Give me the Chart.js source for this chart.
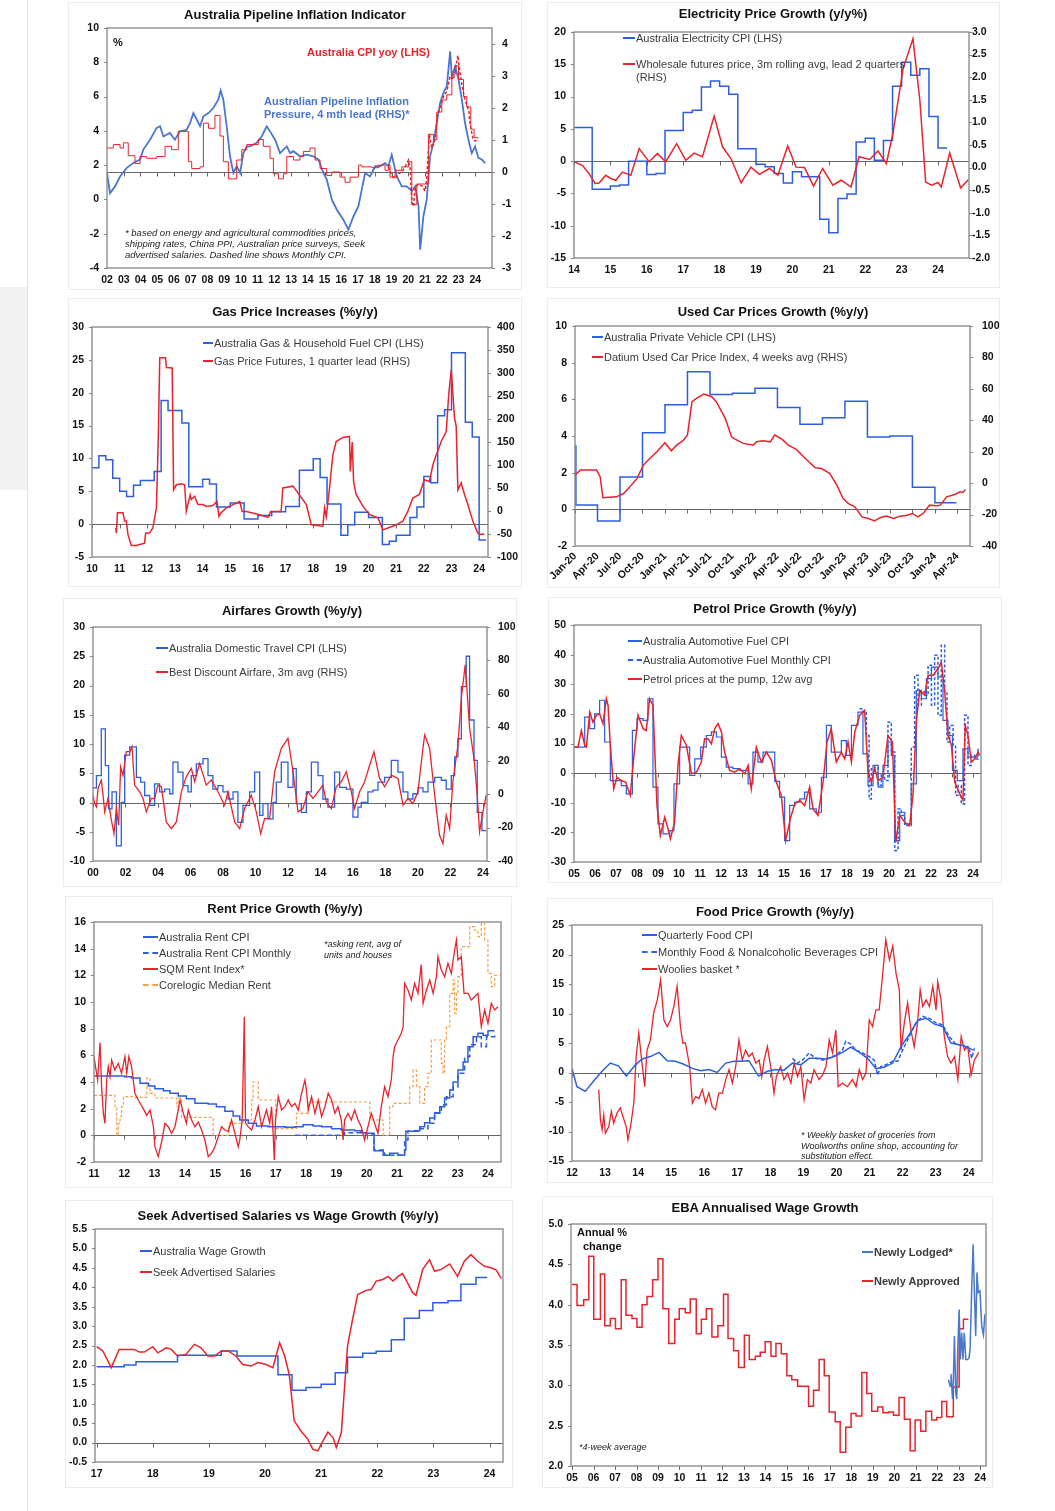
<!DOCTYPE html>
<html>
<head>
<meta charset="utf-8">
<script src="https://cdn.jsdelivr.net/npm/chart.js@4.4.1/dist/chart.umd.min.js"></script>
<style>
body{margin:0;width:1055px;height:1511px;position:relative;overflow:hidden;background:#fff;font-family:"Liberation Sans",Arial,sans-serif;}
.box{position:absolute;border:1px solid #ececec;box-sizing:border-box;}
canvas{position:absolute;}
.tx{position:absolute;white-space:nowrap;line-height:1;transform:translateY(-50%);font-size:11px;color:#3a3a3a;}
.ttl{transform:translate(-50%,-50%);font-weight:bold;font-size:13px;color:#111;}
.note{font-style:italic;font-size:9.5px;color:#222;}
.key{position:absolute;height:0;}
</style>
</head>
<body>
<div style="position:absolute;left:0;top:287px;width:27px;height:203px;background:#f1f1f1;"></div>
<div style="position:absolute;left:27px;top:0;width:1px;height:1511px;background:#e4e4e4;"></div>
<script>
// ---------- data: [year, value] ----------
const pipeYears = ['02','03','04','05','06','07','08','09','10','11','12','13','14','15','16','17','18','19','20','21','22','23','24'];
const pipeLeftTicks = [-4,-2,0,2,4,6,8,10];
const pipeRightTicks = [-3,-2,-1,0,1,2,3,4];
const pipePressure = [[2002.0,-0.03],[2002.18,-0.66],[2002.48,-0.45],[2002.78,-0.14],[2003.18,0.13],[2003.57,0.28],[2003.97,0.39],[2004.17,0.7],[2004.57,1.01],[2004.97,1.38],[2005.17,1.43],[2005.37,1.11],[2005.76,1.22],[2006.06,1.01],[2006.36,1.27],[2006.76,1.32],[2006.96,1.53],[2007.16,1.84],[2007.36,1.64],[2007.56,1.43],[2007.76,1.74],[2008.06,1.84],[2008.35,2.0],[2008.65,2.26],[2008.79,2.55],[2008.95,2.26],[2009.15,1.43],[2009.35,0.49],[2009.55,-0.03],[2009.75,0.18],[2009.95,-0.03],[2010.15,0.59],[2010.35,0.8],[2010.55,0.8],[2010.94,0.91],[2011.24,1.11],[2011.54,1.43],[2011.74,1.27],[2012.04,1.01],[2012.34,0.59],[2012.74,0.8],[2012.94,0.59],[2013.14,0.65],[2013.53,0.49],[2013.93,0.54],[2014.33,0.49],[2014.63,0.39],[2014.93,-0.03],[2015.13,-0.24],[2015.43,-0.86],[2015.73,-1.18],[2016.12,-1.49],[2016.42,-1.8],[2016.72,-1.39],[2017.02,-1.07],[2017.22,-0.55],[2017.42,-0.03],[2017.72,-0.14],[2018.02,0.18],[2018.31,0.18],[2018.61,0.28],[2018.81,0.18],[2019.01,0.54],[2019.31,-0.14],[2019.61,-0.45],[2019.91,-0.45],[2020.21,-0.6],[2020.41,-0.45],[2020.61,-1.07],[2020.71,-2.43],[2020.9,-1.39],[2021.1,-0.86],[2021.3,0.49],[2021.5,0.91],[2021.7,1.53],[2021.9,2.16],[2022.1,2.47],[2022.3,2.68],[2022.5,3.77],[2022.6,2.99],[2022.8,3.3],[2023.0,2.89],[2023.2,2.26],[2023.39,1.53],[2023.59,1.01],[2023.79,0.59],[2023.99,0.8],[2024.19,0.44],[2024.39,0.39],[2024.59,0.28]];
const pipeCpiQ = [[2002.0,3.0],[2002.38,3.2],[2002.78,3.0],[2002.98,3.3],[2003.27,2.55],[2003.67,2.1],[2003.97,2.5],[2004.37,2.4],[2004.97,2.5],[2005.47,3.1],[2005.86,2.9],[2006.26,3.97],[2006.86,2.2],[2007.06,1.8],[2007.56,1.9],[2007.76,4.45],[2008.06,4.15],[2008.45,4.9],[2008.75,3.7],[2008.95,2.2],[2009.25,1.2],[2009.75,2.3],[2010.05,2.9],[2010.35,3.2],[2011.04,3.5],[2011.34,3.1],[2011.74,2.4],[2011.94,1.5],[2012.24,1.2],[2012.54,1.5],[2012.74,2.5],[2013.14,2.3],[2013.53,2.5],[2013.73,2.8],[2014.13,3.0],[2014.43,2.3],[2014.73,1.8],[2015.13,1.4],[2015.43,1.6],[2015.92,1.3],[2016.22,1.0],[2016.52,1.3],[2017.02,2.0],[2017.22,1.9],[2017.82,1.85],[2018.22,2.0],[2018.61,1.7],[2018.81,2.0],[2018.91,1.3],[2019.21,1.7],[2019.61,1.9],[2020.01,2.2],[2020.21,-0.3],[2020.51,0.9],[2021.2,3.8],[2021.5,3.5],[2021.7,5.1],[2022.0,5.8],[2022.3,6.1],[2022.6,7.3],[2022.8,7.8],[2023.0,7.0],[2023.3,6.0],[2023.49,5.4],[2023.73,4.1],[2023.93,3.6],[2024.19,3.6]];
const pipeCpiM = [[2018.81,1.9],[2019.01,1.4],[2019.21,1.2],[2019.41,1.5],[2019.61,1.6],[2019.81,1.9],[2020.01,2.3],[2020.11,1.8],[2020.21,-0.2],[2020.31,-0.4],[2020.41,0.7],[2020.61,0.9],[2020.81,0.8],[2021.0,0.5],[2021.1,1.2],[2021.26,3.8],[2021.4,3.0],[2021.6,3.5],[2021.74,5.0],[2021.9,5.3],[2022.1,6.0],[2022.3,6.3],[2022.5,7.2],[2022.7,7.0],[2022.86,7.8],[2022.96,8.4],[2023.1,7.3],[2023.2,6.7],[2023.34,6.0],[2023.49,5.5],[2023.61,5.2],[2023.69,4.4],[2023.85,3.6],[2023.99,3.4],[2024.19,3.5]];

const elecYears = ['14','15','16','17','18','19','20','21','22','23','24'];
const elecLeftTicks = [-15,-10,-5,0,5,10,15,20];
const elecRightTicks = [-2,-1.5,-1,-0.5,0,0.5,1,1.5,2,2.5,3];
const elecCpi = [[2014.0,5.2],[2014.5,-4.35],[2015.0,-3.85],[2015.25,-3.7],[2015.5,0.0],[2016.0,-2.05],[2016.25,-1.9],[2016.5,4.75],[2017.0,7.55],[2017.25,7.9],[2017.5,11.5],[2017.75,12.4],[2018.0,11.6],[2018.25,10.35],[2018.5,1.9],[2019.0,-0.5],[2019.25,-0.85],[2019.5,-1.9],[2019.75,-3.4],[2020.0,-1.65],[2020.25,-2.4],[2020.75,-9.0],[2021.0,-11.1],[2021.25,-5.8],[2021.5,-5.1],[2021.75,2.95],[2022.0,3.55],[2022.25,0.15],[2022.5,3.2],[2022.75,11.6],[2023.0,15.3],[2023.25,13.3],[2023.5,14.3],[2023.75,6.9],[2024.0,2.05],[2024.25,2.05]];
const elecWholesale = [[2014.0,0.13],[2014.23,0.05],[2014.41,-0.13],[2014.58,-0.35],[2014.69,-0.34],[2014.87,-0.17],[2015.01,-0.24],[2015.15,-0.28],[2015.33,-0.1],[2015.56,-0.17],[2015.79,0.42],[2016.06,0.13],[2016.29,0.31],[2016.52,0.13],[2016.82,0.53],[2017.07,0.16],[2017.3,0.32],[2017.53,0.24],[2017.85,1.14],[2018.08,0.46],[2018.31,0.2],[2018.59,-0.34],[2018.86,0.01],[2019.09,-0.15],[2019.37,-0.02],[2019.6,-0.17],[2019.87,0.48],[2020.1,0.01],[2020.33,0.0],[2020.58,-0.41],[2020.83,-0.02],[2021.11,-0.39],[2021.34,-0.28],[2021.61,-0.43],[2021.83,0.24],[2022.12,0.18],[2022.35,0.37],[2022.58,0.09],[2022.76,0.75],[2023.04,2.19],[2023.31,2.85],[2023.5,1.49],[2023.66,-0.32],[2023.82,-0.39],[2024.0,-0.33],[2024.09,-0.43],[2024.32,0.32],[2024.62,-0.45],[2024.83,-0.27]];

const gasYears = ['10','11','12','13','14','15','16','17','18','19','20','21','22','23','24'];
const gasLeftTicks = [-5,0,5,10,15,20,25,30];
const gasRightTicks = [-100,-50,0,50,100,150,200,250,300,350,400];
const gasCpi = [[2010.0,8.6],[2010.25,10.4],[2010.5,9.8],[2010.75,7.0],[2011.0,5.0],[2011.25,4.2],[2011.5,5.9],[2011.75,6.65],[2012.25,8.0],[2012.5,18.8],[2012.75,17.3],[2013.25,15.4],[2013.5,5.7],[2014.0,6.85],[2014.25,6.1],[2014.5,2.6],[2015.0,3.2],[2015.5,0.8],[2016.0,1.3],[2016.5,1.9],[2017.0,2.7],[2017.5,8.2],[2018.0,9.95],[2018.25,7.1],[2018.5,3.05],[2019.0,-1.7],[2019.25,-0.1],[2019.5,1.8],[2020.0,1.0],[2020.5,-3.1],[2020.75,-2.6],[2021.0,-1.7],[2021.5,1.0],[2021.75,2.6],[2022.0,7.25],[2022.25,6.3],[2022.5,16.5],[2022.75,17.4],[2023.0,26.1],[2023.5,15.5],[2023.75,13.25],[2024.0,-2.4],[2024.25,-2.4]];
const gasFutures = [[2010.86,-37],[2010.88,-48],[2010.92,-4],[2011.12,-4],[2011.18,-22],[2011.24,-22],[2011.3,-51],[2011.42,-75],[2011.6,-75],[2011.9,-70],[2011.94,-48],[2012.08,-48],[2012.2,-37],[2012.33,7],[2012.4,166],[2012.45,333],[2012.66,333],[2012.69,312],[2012.9,311],[2012.95,46],[2013.05,57],[2013.23,59],[2013.35,57],[2013.41,-1],[2013.55,35],[2013.59,25],[2013.71,32],[2013.83,14],[2014.01,14],[2014.13,10],[2014.37,12],[2014.52,21],[2014.59,-12],[2014.67,-4],[2014.86,7],[2015.1,14],[2015.34,21],[2015.43,-1],[2015.58,-1],[2016.06,-8],[2016.36,-14],[2016.46,-1],[2016.84,-1],[2016.9,50],[2017.27,54],[2017.75,14],[2017.93,-30],[2018.35,-33],[2018.41,7],[2018.47,-12],[2018.59,50],[2018.71,122],[2018.83,151],[2019.07,160],[2019.31,162],[2019.34,86],[2019.41,150],[2019.46,64],[2019.55,36],[2019.8,10],[2020.04,-8],[2020.34,-15],[2020.52,-41],[2020.7,-37],[2021.0,-30],[2021.24,-22],[2021.42,-1],[2021.6,28],[2021.84,36],[2022.02,68],[2022.2,64],[2022.33,101],[2022.45,122],[2022.63,151],[2022.81,173],[2022.9,253],[2022.99,307],[2023.11,202],[2023.17,184],[2023.23,46],[2023.35,61],[2023.47,36],[2023.59,14],[2023.77,-22],[2023.95,-48],[2024.07,-51],[2024.19,-50]];

const carQuarters = ['Jan-20','Apr-20','Jul-20','Oct-20','Jan-21','Apr-21','Jul-21','Oct-21','Jan-22','Apr-22','Jul-22','Oct-22','Jan-23','Apr-23','Jul-23','Oct-23','Jan-24','Apr-24'];
const carLeftTicks = [-2,0,2,4,6,8,10];
const carRightTicks = [-40,-20,0,20,40,60,80,100];
const carCpi = [[2020.0,3.45],[2020.01,0.24],[2020.25,-0.64],[2020.5,1.76],[2020.75,4.18],[2021.0,5.7],[2021.25,7.5],[2021.5,6.27],[2021.75,6.33],[2022.0,6.6],[2022.25,5.55],[2022.5,4.64],[2022.75,5.0],[2023.0,5.9],[2023.25,3.95],[2023.5,4.0],[2023.75,1.2],[2024.0,0.36],[2024.24,0.36]];
const carDatium = [[2020.0,5.1],[2020.06,8.3],[2020.24,8.3],[2020.28,4],[2020.31,-9.3],[2020.46,-8.7],[2020.54,-6.6],[2020.61,-2.3],[2020.69,3],[2020.76,11.5],[2020.83,15.7],[2020.91,20],[2021.0,25.7],[2021.07,20.6],[2021.13,24.2],[2021.2,27],[2021.25,30.6],[2021.3,51.8],[2021.35,54],[2021.43,56.7],[2021.52,55],[2021.57,51.8],[2021.67,41.2],[2021.74,29.5],[2021.78,28],[2021.87,25.3],[2021.98,24.2],[2022.02,26.3],[2022.09,27],[2022.17,26.3],[2022.22,30.6],[2022.3,28],[2022.37,24.2],[2022.46,21.5],[2022.56,15.7],[2022.67,9.8],[2022.74,9.3],[2022.83,6.2],[2022.91,-1.3],[2022.98,-9.8],[2023.04,-13],[2023.11,-15],[2023.19,-21.5],[2023.26,-22.5],[2023.33,-24],[2023.39,-22],[2023.46,-21],[2023.54,-22.5],[2023.61,-21],[2023.69,-20.4],[2023.75,-19.3],[2023.81,-21.5],[2023.87,-19.3],[2023.94,-14],[2024.02,-14.4],[2024.06,-14],[2024.13,-8.7],[2024.22,-7.2],[2024.28,-5.5],[2024.31,-5.9],[2024.34,-4]];

const airYears = ['00','02','04','06','08','10','12','14','16','18','20','22','24'];
const airLeftTicks = [-10,-5,0,5,10,15,20,25,30];
const airRightTicks = [-40,-20,0,20,40,60,80,100];
const airCpi = [[2000.0,2.5],[2000.21,4.6],[2000.51,12.6],[2000.76,6.3],[2000.96,-1.1],[2001.17,1.8],[2001.44,-7.4],[2001.74,0],[2001.95,8.1],[2002.26,9.5],[2002.67,4.3],[2002.93,3.5],[2003.18,1.2],[2003.49,-0.5],[2003.79,3.2],[2004.1,1.8],[2004.41,2.3],[2004.72,1.5],[2004.92,6.9],[2005.23,5.2],[2005.54,2.9],[2005.85,1.8],[2006.05,4.6],[2006.36,6.6],[2006.77,7.5],[2007.08,4.6],[2007.38,2.3],[2007.69,2.9],[2008.0,1.8],[2008.31,0.6],[2008.62,1.8],[2008.92,-3.4],[2009.23,-0.5],[2009.64,1.8],[2009.95,5.2],[2010.26,-2.2],[2010.46,-0.2],[2010.77,-2.8],[2011.08,0],[2011.28,3.5],[2011.59,6.9],[2012.0,2.6],[2012.31,5.8],[2012.51,-0.2],[2012.82,-1.7],[2013.13,1.8],[2013.44,6.9],[2013.85,4.6],[2014.15,0.6],[2014.46,-0.8],[2014.87,5.2],[2015.18,2.6],[2015.59,2.3],[2016.0,-2.5],[2016.31,-0.8],[2016.51,0],[2016.92,1.8],[2017.23,2.1],[2017.54,3.5],[2017.95,4.3],[2018.36,7.2],[2018.77,5.2],[2019.08,1.8],[2019.38,0.6],[2019.69,1.5],[2020.0,2.5],[2020.31,1.8],[2020.62,3.5],[2021.03,4.3],[2021.44,3.8],[2021.74,2.3],[2022.05,4.6],[2022.26,7.8],[2022.46,10.9],[2022.67,19.8],[2022.97,25],[2023.18,14.1],[2023.45,7.2],[2023.65,-1.7],[2023.94,-4.8],[2024.2,-4.8]];
const airFare = [[2000.0,-0.6],[2000.1,-5.6],[2000.21,-7.6],[2000.31,3.4],[2000.51,8.4],[2000.62,-0.6],[2000.72,-10.6],[2000.92,-2.6],[2001.13,-15.6],[2001.29,-23.6],[2001.44,-8.6],[2001.58,-18.6],[2001.7,16.4],[2001.85,11.4],[2002.05,25.4],[2002.26,25.4],[2002.4,28.4],[2002.56,5.4],[2002.87,1.4],[2003.08,-2.6],[2003.28,-10.6],[2003.59,-2.6],[2003.79,-2.6],[2004.0,5.4],[2004.21,4.4],[2004.51,-16.6],[2004.82,-20.6],[2005.13,-16.6],[2005.44,1.4],[2005.74,10.4],[2006.05,15.4],[2006.26,7.4],[2006.56,18.4],[2006.97,5.4],[2007.28,8.4],[2007.69,1.4],[2008.1,-6.6],[2008.31,1.4],[2008.72,-16.6],[2009.03,-20.6],[2009.33,-8.6],[2009.74,-0.6],[2010.05,-10.6],[2010.32,-23.6],[2010.56,-14.6],[2010.87,-14.6],[2011.18,13.4],[2011.59,27.4],[2012.0,33.4],[2012.31,13.4],[2012.62,-10.6],[2012.92,-8.6],[2013.23,1.4],[2013.54,-2.6],[2013.85,1.4],[2014.15,5.4],[2014.36,-4.6],[2014.67,-8.6],[2014.97,4.4],[2015.28,7.4],[2015.59,13.4],[2015.9,1.4],[2016.1,-8.6],[2016.41,1.4],[2016.72,7.4],[2017.03,17.4],[2017.29,25.4],[2017.64,9.4],[2017.95,4.4],[2018.36,11.4],[2018.77,9.4],[2019.08,-6.6],[2019.38,-2.6],[2019.69,-5.6],[2020.0,1.4],[2020.21,19.4],[2020.41,35.4],[2020.72,27.4],[2021.03,-0.6],[2021.33,-24.6],[2021.54,-29.6],[2021.74,-12.6],[2021.95,-20.6],[2022.15,7.4],[2022.46,29.4],[2022.67,57.4],[2022.91,77.4],[2023.18,39.4],[2023.45,21.4],[2023.65,-0.6],[2023.79,-22.6],[2024.0,-10.6],[2024.2,-0.6]];

const petrolYears = ['05','06','07','08','09','10','11','12','13','14','15','16','17','18','19','20','21','22','23','24'];
const petrolTicks = [-30,-20,-10,0,10,20,30,40,50];
const petrolCpiQ = [[2005.0,8.8],[2005.27,8.8],[2005.51,18.9],[2005.75,15],[2005.98,20],[2006.22,24.6],[2006.46,10.5],[2006.73,-2.5],[2006.98,-2.5],[2007.25,-4.2],[2007.49,-7],[2007.78,14.4],[2008.0,18.4],[2008.29,17.8],[2008.52,25.1],[2008.76,-4.7],[2009.0,-17.1],[2009.24,-20.5],[2009.56,-19.4],[2009.76,-3.6],[2010.03,8.8],[2010.27,8.8],[2010.51,-0.8],[2010.75,4.8],[2011.03,8.8],[2011.3,12.7],[2011.54,13.9],[2011.78,12.2],[2012.02,5.4],[2012.25,2],[2012.57,1.5],[2012.89,0.9],[2013.29,-3.6],[2013.52,7.1],[2013.76,3.7],[2014.0,7.1],[2014.32,7.1],[2014.56,-2.8],[2014.79,-8.1],[2015.03,-22.8],[2015.27,-10.9],[2015.51,-9.8],[2015.75,-8.7],[2015.98,-6.4],[2016.22,-12.1],[2016.54,-13.2],[2016.78,-1.4],[2017.02,16.1],[2017.25,7.1],[2017.49,7.1],[2017.73,11],[2017.97,6],[2018.21,16.1],[2018.52,20.6],[2018.76,6.5],[2019.0,-4.2],[2019.24,2.6],[2019.48,-4.7],[2019.71,2.6],[2019.95,10.5],[2020.11,6],[2020.27,-22.8],[2020.51,-13.2],[2020.75,-17.1],[2021.06,-3.6],[2021.3,27.9],[2021.54,25.1],[2021.78,31.9],[2022.02,35.8],[2022.33,32.5],[2022.57,17.8],[2022.81,12.7],[2023.02,0.9],[2023.25,-2.5],[2023.52,8.2],[2023.76,5.4],[2024.0,5.4],[2024.24,5.4]];
const petrolCpiM = [[2018.6,21.7],[2018.76,20.6],[2018.92,12.7],[2019.05,-8.7],[2019.16,1.5],[2019.32,2],[2019.48,-4.2],[2019.63,-0.2],[2019.79,-2.5],[2019.95,17.2],[2020.11,7.1],[2020.27,-26.1],[2020.43,-12.1],[2020.59,-14.3],[2020.75,-17.7],[2020.9,-17.7],[2021.06,8.8],[2021.22,33],[2021.38,22.9],[2021.54,27.4],[2021.7,26.3],[2021.86,36.4],[2022.02,22.9],[2022.17,39.8],[2022.33,19.5],[2022.49,43.2],[2022.65,27.4],[2022.76,10.5],[2022.89,16.1],[2023.05,9.4],[2023.17,-7.5],[2023.29,-4.2],[2023.44,-10.4],[2023.6,19.5],[2023.76,2.6],[2023.92,6],[2024.08,4.8],[2024.24,8.2]];
const petrolPump = [[2005.0,8.8],[2005.19,8.8],[2005.35,14.4],[2005.51,9.4],[2005.59,8.8],[2005.75,20.6],[2005.9,17.2],[2006.06,19.5],[2006.22,20],[2006.38,16.7],[2006.54,25.1],[2006.62,22.9],[2006.73,9.4],[2006.89,-5.3],[2007.05,-1.4],[2007.25,-2.5],[2007.46,-3],[2007.68,-7.5],[2007.84,4.8],[2008.05,19.5],[2008.29,15],[2008.44,14.4],[2008.6,25.1],[2008.76,22.9],[2008.95,-10.9],[2009.11,-21.1],[2009.32,-14.9],[2009.48,-18.8],[2009.59,-22.2],[2009.79,-16.6],[2009.95,2.6],[2010.11,12.7],[2010.35,9.4],[2010.59,-0.2],[2010.83,0.3],[2011.06,3.7],[2011.22,11.6],[2011.38,11.6],[2011.54,9.9],[2011.7,15],[2011.86,16.7],[2012.02,13.9],[2012.17,7.1],[2012.41,0.9],[2012.65,0.3],[2012.89,1.5],[2013.13,-0.2],[2013.29,2.6],[2013.44,-5.3],[2013.68,8.8],[2013.92,3.7],[2014.16,7.1],[2014.4,4.3],[2014.63,-3],[2014.87,-7.5],[2015.08,-22.8],[2015.3,-15.4],[2015.51,-10.4],[2015.75,-9.2],[2015.98,-10.9],[2016.22,-4.7],[2016.38,-12.1],[2016.62,-14.3],[2016.86,-3],[2017.05,10.5],[2017.25,15],[2017.49,3.7],[2017.73,7.1],[2017.89,4.8],[2018.05,10.5],[2018.21,3.7],[2018.37,13.9],[2018.6,19.5],[2018.84,21.2],[2019.0,0.3],[2019.16,-3],[2019.32,1.5],[2019.48,-2.5],[2019.71,-1.4],[2019.95,12.7],[2020.16,10.5],[2020.32,-23.3],[2020.51,-14.3],[2020.75,-16.6],[2020.98,-17.7],[2021.14,-7.5],[2021.3,17.2],[2021.46,27.9],[2021.7,26.3],[2021.86,33],[2022.1,33],[2022.33,35.3],[2022.49,37.5],[2022.65,27.4],[2022.81,12.7],[2022.97,9.4],[2023.13,-3],[2023.4,-7.5],[2023.52,-9.2],[2023.63,16.1],[2023.76,12.7],[2023.92,3.7],[2024.08,4.8],[2024.24,7.1],[2024.32,6]];

const rentYears = ['11','12','13','14','15','16','17','18','19','20','21','22','23','24'];
const rentTicks = [-2,0,2,4,6,8,10,12,14,16];
const rentCpi = [[2011.0,4.45],[2011.86,4.45],[2012.02,4.4],[2012.24,4.3],[2012.52,3.9],[2012.79,3.7],[2013.01,3.5],[2013.29,3.35],[2013.51,3.15],[2013.78,2.95],[2014.05,2.75],[2014.33,2.4],[2014.77,2.35],[2015.04,2.15],[2015.32,1.8],[2015.59,1.45],[2015.81,1.15],[2016.09,0.9],[2016.36,0.7],[2016.75,0.65],[2017.3,0.6],[2017.63,0.65],[2017.9,0.8],[2018.23,0.7],[2018.51,0.65],[2018.84,0.5],[2019.16,0.4],[2019.44,0.4],[2019.6,0.35],[2019.82,0.2],[2019.99,0.15],[2020.24,-1.15],[2020.54,-1.5],[2020.76,-1.35],[2021.03,-1.5],[2021.25,-1.1],[2021.29,0.3],[2021.58,0.35],[2021.75,0.65],[2021.91,0.95],[2022.08,1.3],[2022.24,1.7],[2022.41,2.15],[2022.57,2.8],[2022.74,3.4],[2022.85,4.0],[2023.01,4.9],[2023.18,5.5],[2023.34,6.65],[2023.51,7.4],[2023.67,7.65],[2023.84,7.5],[2024.0,7.85],[2024.22,7.85]];
const rentCpiM = [[2017.63,0.0],[2018.51,0.0],[2019.27,0.2],[2019.99,0.1],[2020.24,-1.1],[2020.59,-1.5],[2021.14,-1.5],[2021.25,-0.35],[2021.36,0.3],[2021.69,0.5],[2022.02,0.9],[2022.24,1.65],[2022.46,2.3],[2022.63,2.9],[2022.85,3.65],[2023.01,4.65],[2023.23,5.9],[2023.4,6.8],[2023.62,7.4],[2023.78,6.65],[2023.95,7.4],[2024.22,7.65]];
const rentSqm = [[2011.0,5.9],[2011.05,5.15],[2011.12,4.15],[2011.2,6.95],[2011.25,3.65],[2011.31,1.65],[2011.36,0.9],[2011.42,4.15],[2011.47,5.15],[2011.53,4.4],[2011.58,5.65],[2011.69,4.9],[2011.8,5.4],[2011.91,4.65],[2012.02,5.9],[2012.08,4.65],[2012.15,5.9],[2012.24,5.15],[2012.35,3.15],[2012.46,2.65],[2012.59,2.15],[2012.74,1.5],[2012.85,1.9],[2012.96,0.65],[2013.01,-0.85],[2013.12,-1.6],[2013.23,-0.5],[2013.34,0.9],[2013.45,0.65],[2013.56,0.15],[2013.67,0.65],[2013.78,1.9],[2013.84,2.65],[2013.95,1.65],[2014.05,0.9],[2014.11,1.9],[2014.22,1.15],[2014.33,0.65],[2014.44,1.0],[2014.55,0.4],[2014.66,-0.35],[2014.77,-1.6],[2014.88,-1.35],[2014.99,-0.85],[2015.1,-0.1],[2015.21,0.65],[2015.32,0.4],[2015.43,0.3],[2015.54,1.15],[2015.65,0.15],[2015.76,-0.85],[2015.81,-0.35],[2015.89,1.15],[2015.96,8.9],[2016.0,0.9],[2016.09,0.65],[2016.2,0.4],[2016.31,1.15],[2016.42,2.15],[2016.53,0.65],[2016.69,1.9],[2016.8,0.9],[2016.86,2.15],[2016.91,0.15],[2016.95,-1.85],[2016.99,1.15],[2017.08,2.9],[2017.19,1.9],[2017.3,2.15],[2017.41,2.65],[2017.52,2.15],[2017.63,2.4],[2017.74,1.9],[2017.85,3.15],[2017.96,4.15],[2018.01,3.4],[2018.07,1.9],[2018.18,2.9],[2018.29,1.65],[2018.4,2.65],[2018.51,1.4],[2018.62,2.15],[2018.73,3.15],[2018.84,2.65],[2018.95,1.65],[2019.05,2.15],[2019.16,1.15],[2019.22,-0.35],[2019.27,1.15],[2019.38,1.65],[2019.49,1.15],[2019.6,1.9],[2019.71,1.15],[2019.82,0.65],[2019.93,-0.35],[2020.04,0.65],[2020.15,1.65],[2020.26,0.9],[2020.37,0.15],[2020.48,2.15],[2020.59,3.65],[2020.7,2.9],[2020.81,4.15],[2020.87,5.9],[2020.92,6.65],[2021.03,7.15],[2021.14,7.65],[2021.2,8.15],[2021.25,11.4],[2021.36,10.9],[2021.47,10.15],[2021.58,11.4],[2021.69,10.65],[2021.8,12.8],[2021.86,9.9],[2021.97,10.9],[2022.08,11.65],[2022.19,10.65],[2022.3,11.9],[2022.35,13.4],[2022.46,12.4],[2022.57,11.9],[2022.68,12.9],[2022.79,12.15],[2022.9,13.9],[2022.96,14.65],[2023.01,13.15],[2023.12,13.4],[2023.21,10.65],[2023.34,10.65],[2023.45,10.15],[2023.56,10.4],[2023.67,10.65],[2023.78,8.15],[2023.89,9.4],[2024.0,8.4],[2024.11,9.9],[2024.22,9.4],[2024.33,9.65]];
const rentCorelogic = [[2011.0,3.0],[2011.69,2.15],[2011.75,0],[2011.8,0.9],[2011.86,1.4],[2011.91,2.15],[2011.97,2.9],[2012.35,2.85],[2012.74,4.3],[2012.85,3.15],[2013.01,2.8],[2013.73,2.15],[2013.78,2.8],[2013.89,1.35],[2014.93,0],[2015.45,0.9],[2015.92,1.15],[2016.2,2.65],[2016.25,4.0],[2016.42,2.65],[2016.99,0.5],[2017.68,1.65],[2018.07,2.5],[2020.1,1.15],[2020.54,0],[2020.76,2.15],[2020.87,2.4],[2021.42,3.65],[2021.53,4.9],[2021.64,3.65],[2021.75,2.4],[2021.91,3.65],[2022.02,4.65],[2022.13,7.15],[2022.46,5.4],[2022.52,4.65],[2022.57,7.15],[2022.63,8.15],[2022.74,10.65],[2022.85,11.65],[2022.9,9.15],[2022.96,10.65],[2023.01,11.9],[2023.12,14.15],[2023.4,15.65],[2023.56,15.4],[2023.67,14.9],[2023.78,15.9],[2023.89,14.65],[2024.0,12.15],[2024.11,11.15],[2024.22,12.0],[2024.38,12.0]];

const foodYears = ['12','13','14','15','16','17','18','19','20','21','22','23','24'];
const foodTicks = [-15,-10,-5,0,5,10,15,20,25];
const foodCpiQ = [[2012.0,0.7],[2012.15,-2.4],[2012.4,-3.2],[2012.66,-1.4],[2012.91,0.2],[2013.16,1.6],[2013.41,1.1],[2013.64,-0.6],[2013.92,1.3],[2014.12,2.3],[2014.37,2.7],[2014.63,3.4],[2014.88,2.0],[2015.13,1.9],[2015.38,1.4],[2015.64,0.7],[2015.89,0.3],[2016.14,0.5],[2016.39,0.0],[2016.65,1.6],[2016.9,1.9],[2017.1,1.9],[2017.35,2.0],[2017.64,-0.6],[2017.91,0.2],[2018.16,0.5],[2018.41,0.4],[2018.67,1.6],[2018.92,1.3],[2019.17,2.4],[2019.42,2.4],[2019.68,2.3],[2019.93,2.7],[2020.18,3.4],[2020.43,4.3],[2020.69,3.4],[2020.94,2.4],[2021.19,0.7],[2021.44,0.9],[2021.7,1.6],[2021.95,4.4],[2022.2,6.4],[2022.45,8.8],[2022.71,9.2],[2022.96,8.2],[2023.21,7.8],[2023.46,5.0],[2023.72,4.7],[2023.97,4.3],[2024.12,3.8]];
const foodCpiM = [[2018.67,2.4],[2018.82,1.6],[2018.97,2.1],[2019.17,3.3],[2019.37,2.4],[2019.58,2.1],[2019.78,2.4],[2019.98,3.0],[2020.18,3.8],[2020.28,5.3],[2020.43,4.8],[2020.59,3.8],[2020.79,3.3],[2020.99,2.7],[2021.14,2.1],[2021.24,-0.4],[2021.34,1.0],[2021.49,1.3],[2021.7,1.9],[2021.85,1.9],[2022.0,3.8],[2022.2,6.1],[2022.4,8.4],[2022.61,9.5],[2022.81,9.2],[2023.01,8.4],[2023.21,8.1],[2023.41,6.1],[2023.62,4.7],[2023.82,4.7],[2024.02,3.8],[2024.09,2.4],[2024.17,4.1]];
const foodWoolies = [[2012.81,-2.9],[2012.86,-8.0],[2012.91,-9.7],[2012.96,-7.2],[2013.01,-10.3],[2013.11,-9.2],[2013.19,-6.6],[2013.26,-8.6],[2013.36,-6.9],[2013.46,-6.0],[2013.52,-7.1],[2013.64,-9.2],[2013.69,-11.4],[2013.77,-9.2],[2013.87,-5.2],[2013.94,2.7],[2014.02,6.7],[2014.1,2.4],[2014.2,-2.4],[2014.27,3.8],[2014.37,5.5],[2014.47,10.1],[2014.58,12.3],[2014.68,15.7],[2014.78,8.9],[2014.88,7.8],[2014.98,8.9],[2015.08,11.2],[2015.18,14.6],[2015.28,7.8],[2015.35,5.0],[2015.43,5.0],[2015.56,1.0],[2015.64,-5.2],[2015.74,-4.1],[2015.84,-4.4],[2015.94,-2.9],[2016.04,-5.2],[2016.14,-3.5],[2016.24,-5.8],[2016.34,-6.3],[2016.44,-3.5],[2016.55,-3.5],[2016.65,-1.2],[2016.75,0.5],[2016.85,-1.8],[2016.95,1.0],[2017.05,5.5],[2017.15,2.1],[2017.25,3.8],[2017.35,2.7],[2017.45,3.3],[2017.56,1.6],[2017.66,2.1],[2017.74,-0.7],[2017.81,2.1],[2017.91,4.4],[2018.01,1.0],[2018.11,-3.5],[2018.18,-0.7],[2018.31,1.0],[2018.41,-1.2],[2018.52,-0.1],[2018.62,-1.8],[2018.72,1.6],[2018.82,-0.7],[2018.92,1.0],[2019.02,-4.6],[2019.12,-1.2],[2019.22,-1.8],[2019.32,0.5],[2019.47,-1.2],[2019.58,-0.4],[2019.68,1.0],[2019.78,5.5],[2019.88,3.3],[2019.98,7.2],[2020.05,-2.4],[2020.18,-1.8],[2020.33,-2.4],[2020.48,-1.2],[2020.59,-2.4],[2020.69,0.5],[2020.79,-1.2],[2020.89,-0.1],[2020.99,8.9],[2021.09,7.8],[2021.19,10.6],[2021.29,10.6],[2021.39,16.3],[2021.49,22.5],[2021.6,19.1],[2021.7,21.4],[2021.8,16.8],[2021.9,14.0],[2021.95,3.8],[2022.05,8.4],[2022.15,11.8],[2022.25,7.2],[2022.35,4.4],[2022.45,8.4],[2022.53,14.0],[2022.61,11.2],[2022.71,12.3],[2022.81,11.2],[2022.91,14.6],[2023.01,10.6],[2023.06,15.4],[2023.16,12.3],[2023.26,6.1],[2023.36,2.7],[2023.46,1.6],[2023.57,2.7],[2023.67,-1.2],[2023.77,6.1],[2023.87,3.8],[2023.97,4.4],[2024.07,-0.4],[2024.17,2.1],[2024.3,3.4]];

const seekYears = ['17','18','19','20','21','22','23','24'];
const seekTicks = [-0.5,0,0.5,1,1.5,2,2.5,3,3.5,4,4.5,5,5.5];
const seekWage = [[2017.0,1.95],[2017.49,2.0],[2017.7,2.08],[2018.44,2.25],[2019.22,2.36],[2019.5,2.23],[2020.23,1.75],[2020.48,1.35],[2020.73,1.42],[2021.0,1.5],[2021.25,1.8],[2021.47,2.2],[2021.74,2.3],[2021.98,2.35],[2022.25,2.65],[2022.48,3.2],[2022.75,3.4],[2022.99,3.6],[2023.26,3.65],[2023.49,4.08],[2023.76,4.25],[2023.96,4.25]];
const seekSalaries = [[2017.0,2.47],[2017.11,2.36],[2017.26,1.93],[2017.4,2.4],[2017.49,2.4],[2017.67,2.4],[2017.76,2.33],[2017.85,2.33],[2018.0,2.47],[2018.09,2.31],[2018.24,2.44],[2018.33,2.4],[2018.44,2.23],[2018.59,2.27],[2018.74,2.53],[2018.86,2.44],[2018.98,2.23],[2019.1,2.23],[2019.22,2.36],[2019.34,2.36],[2019.48,2.23],[2019.6,2.01],[2019.75,1.97],[2019.87,2.06],[2020.02,2.01],[2020.14,1.93],[2020.26,2.57],[2020.35,2.23],[2020.43,1.76],[2020.52,0.56],[2020.64,0.3],[2020.76,0.09],[2020.85,-0.17],[2020.94,-0.21],[2021.03,0.04],[2021.12,0.27],[2021.21,0.13],[2021.27,-0.13],[2021.36,0.26],[2021.41,1.29],[2021.47,2.49],[2021.56,3.17],[2021.65,3.81],[2021.8,3.92],[2021.89,3.94],[2021.98,4.16],[2022.1,4.2],[2022.19,4.28],[2022.28,4.16],[2022.37,4.28],[2022.45,4.35],[2022.54,4.11],[2022.63,3.86],[2022.69,3.79],[2022.81,4.46],[2022.93,4.71],[2023.02,4.41],[2023.14,4.46],[2023.29,4.6],[2023.43,4.28],[2023.55,4.67],[2023.67,4.84],[2023.79,4.67],[2023.91,4.54],[2024.03,4.5],[2024.12,4.44],[2024.21,4.22]];

const ebaYears = ['05','06','07','08','09','10','11','12','13','14','15','16','17','18','19','20','21','22','23','24'];
const ebaTicks = [2,2.5,3,3.5,4,4.5,5];
const ebaApproved = [[2005.0,4.25],[2005.23,3.99],[2005.54,4.06],[2005.78,4.6],[2006.01,3.82],[2006.32,4.38],[2006.52,3.74],[2006.78,3.83],[2007.02,3.7],[2007.29,4.31],[2007.51,3.87],[2007.79,3.83],[2008.02,3.72],[2008.26,4.0],[2008.49,4.1],[2008.75,4.31],[2009.0,4.57],[2009.23,3.95],[2009.5,3.52],[2009.78,3.82],[2009.99,3.95],[2010.27,3.9],[2010.5,4.07],[2010.78,3.64],[2011.02,3.82],[2011.25,3.95],[2011.51,3.6],[2011.79,3.74],[2012.05,4.13],[2012.26,3.58],[2012.52,3.43],[2012.75,3.22],[2013.02,3.62],[2013.25,3.32],[2013.53,3.36],[2013.76,3.41],[2013.99,3.54],[2014.26,3.36],[2014.49,3.52],[2014.74,3.39],[2015.0,3.12],[2015.23,3.07],[2015.5,2.99],[2015.78,2.99],[2016.01,2.74],[2016.24,2.94],[2016.5,3.32],[2016.74,3.12],[2016.97,2.67],[2017.25,2.55],[2017.48,2.17],[2017.74,2.48],[2017.99,2.65],[2018.22,2.62],[2018.49,3.16],[2018.72,2.9],[2018.95,2.68],[2019.23,2.73],[2019.47,2.66],[2019.73,2.67],[2019.96,2.63],[2020.22,2.85],[2020.47,2.58],[2020.74,2.19],[2020.97,2.57],[2021.23,2.43],[2021.47,2.68],[2021.74,2.57],[2021.98,2.6],[2022.21,2.8],[2022.44,2.61],[2022.75,2.98],[2023.02,3.7],[2023.22,3.82],[2023.45,3.82]];
const ebaLodged = [[2022.52,3.07],[2022.6,2.99],[2022.64,3.14],[2022.71,2.83],[2022.75,3.07],[2022.8,3.61],[2022.86,2.91],[2022.91,2.83],[2022.95,3.4],[2023.02,3.94],[2023.08,3.32],[2023.14,3.65],[2023.2,3.32],[2023.26,3.65],[2023.33,3.32],[2023.42,3.32],[2023.48,3.34],[2023.53,3.45],[2023.6,4.15],[2023.67,4.75],[2023.73,4.15],[2023.79,3.61],[2023.85,4.4],[2023.91,4.15],[2023.99,4.17],[2024.07,3.74],[2024.15,3.63],[2024.22,3.88]];

// ---------- styling ----------
const BLUE = '#2b5fe0', BLUE_P = '#4877cc', RED = '#e8232b', ORANGE = '#f2a04e';
Chart.defaults.font.family = "'Liberation Sans', Arial, sans-serif";
Chart.defaults.animation = false;

Chart.register({
  id: 'frame',
  beforeDatasetsDraw(chart, args, o) {
    const {ctx, chartArea: a, scales} = chart;
    ctx.save();
    ctx.strokeStyle = '#666'; ctx.lineWidth = 1;
    let ty = a.bottom;
    if (o.zero) {
      ty = Math.round(scales[o.zero].getPixelForValue(0)) + 0.5;
      ctx.beginPath(); ctx.moveTo(a.left, ty); ctx.lineTo(a.right, ty); ctx.stroke();
    }
    ctx.beginPath();
    scales.x.ticks.forEach(t => {
      const x = Math.round(scales.x.getPixelForValue(t.value)) + 0.5;
      ctx.moveTo(x, ty); ctx.lineTo(x, ty + 4);
    });
    ctx.stroke();
    ctx.restore();
  },
  afterDatasetsDraw(chart) {
    const {ctx, chartArea: a, scales} = chart;
    ctx.save();
    ctx.strokeStyle = '#858585'; ctx.lineWidth = 1.3;
    ctx.strokeRect(a.left, a.top, a.right - a.left, a.bottom - a.top);
    ctx.lineWidth = 1;
    ctx.beginPath();
    scales.y.ticks.forEach(t => {
      const y = Math.round(scales.y.getPixelForValue(t.value)) + 0.5;
      ctx.moveTo(a.left - 3, y); ctx.lineTo(a.left, y);
    });
    if (scales.y2) scales.y2.ticks.forEach(t => {
      const y = Math.round(scales.y2.getPixelForValue(t.value)) + 0.5;
      ctx.moveTo(a.right, y); ctx.lineTo(a.right + 3, y);
    });
    ctx.stroke();
    ctx.restore();
  }
});

const yy = s => 2000 + Number(s);
const qq = s => 2000 + Number(s.slice(4)) + {Jan:0, Apr:0.25, Jul:0.5, Oct:0.75}[s.slice(0, 3)];
const tickFont = {size: 10.5, weight: 'bold'};

function line(pts, color, opt) {
  return Object.assign({
    data: pts.map(p => ({x: p[0], y: p[1]})),
    borderColor: color, borderWidth: 1.5, pointRadius: 0, tension: 0, fill: false, yAxisID: 'y'
  }, opt || {});
}

function yScale(ax, pos, width) {
  return {
    position: pos, min: ax.min, max: ax.max,
    grid: {display: false, drawTicks: false}, border: {display: false},
    afterBuildTicks: s => { s.ticks = ax.ticks.map(v => ({value: v})); },
    ticks: {padding: ax.pad != null ? ax.pad : 8, font: tickFont, color: '#111',
            callback: v => ax.dec ? v.toFixed(ax.dec) : String(v)},
    afterFit: s => { s.width = width; }
  };
}

function panel(p) {
  const [fx, fy, fw, fh] = p.frame, [l, t, r, b] = p.plot;
  const box = document.createElement('div');
  box.className = 'box';
  box.style.cssText = `left:${fx}px;top:${fy}px;width:${fw}px;height:${fh}px;`;
  document.body.appendChild(box);
  const c = document.createElement('canvas');
  c.width = fw; c.height = fh;
  c.style.cssText = `left:${fx}px;top:${fy}px;width:${fw}px;height:${fh}px;`;
  document.body.appendChild(c);

  const xt = p.xLabels.map(s => [p.xPos(s), s]);
  const scales = {
    x: {
      type: 'linear', min: p.x[0], max: p.x[1],
      grid: {display: false, drawTicks: false}, border: {display: false},
      afterBuildTicks: s => { s.ticks = xt.map(v => ({value: v[0]})); },
      ticks: {autoSkip: false, padding: p.rot ? 4 : 6, minRotation: p.rot || 0, maxRotation: p.rot || 0,
              font: tickFont, color: '#111',
              callback: v => { const f = xt.find(k => Math.abs(k[0] - v) < 1e-6); return f ? f[1] : ''; }},
      afterFit: s => { s.height = fy + fh - b; s.paddingLeft = 0; s.paddingRight = 0; }
    },
    y: yScale(p.y, 'left', l - fx)
  };
  if (p.y2) scales.y2 = yScale(p.y2, 'right', fx + fw - r);

  new Chart(c, {
    type: 'line',
    data: {datasets: p.sets},
    options: {
      responsive: false, animation: false, events: [],
      layout: {padding: {top: t - fy, left: 0, bottom: 0, right: p.y2 ? 0 : fx + fw - r}},
      scales,
      plugins: {legend: {display: false}, tooltip: {enabled: false}, frame: {zero: p.zero}}
    }
  });
}

function text(x, y, s, cls, css) {
  const d = document.createElement('div');
  d.className = 'tx ' + (cls || '');
  d.style.left = x + 'px'; d.style.top = y + 'px';
  if (css) d.style.cssText += css;
  d.textContent = s;
  document.body.appendChild(d);
}
function key(x1, x2, y, color, dashed, s, css) {
  const k = document.createElement('div');
  k.className = 'key';
  k.style.cssText = `left:${x1}px;top:${y - 1}px;width:${x2 - x1}px;border-top:2px ${dashed ? 'dashed' : 'solid'} ${color};`;
  document.body.appendChild(k);
  text(x2 + 1, y, s, '', css);
}

// ---------- panels ----------
panel({frame: [68, 2, 454, 288], plot: [107, 28, 492, 268], x: [2002, 2025], xLabels: pipeYears, xPos: yy,
  y: {min: -4, max: 10, ticks: pipeLeftTicks}, y2: {min: -3, max: 4.5, ticks: pipeRightTicks, pad: 10}, zero: 'y2',
  sets: [line(pipeCpiM, RED, {borderDash: [3, 2]}), line(pipeCpiQ, RED, {stepped: true, borderWidth: 1}),
         line(pipePressure, BLUE_P, {yAxisID: 'y2', borderWidth: 1.8})]});

panel({frame: [547, 2, 453, 286], plot: [574, 32, 969, 258], x: [2014, 2024.85], xLabels: elecYears, xPos: yy,
  y: {min: -15, max: 20, ticks: elecLeftTicks}, y2: {min: -2, max: 3, ticks: elecRightTicks, dec: 1, pad: 3}, zero: 'y',
  sets: [line(elecWholesale, RED, {yAxisID: 'y2'}), line(elecCpi, BLUE, {stepped: true})]});

panel({frame: [68, 298, 454, 289], plot: [92, 327, 488, 557], x: [2010, 2024.32], xLabels: gasYears, xPos: yy,
  y: {min: -5, max: 30, ticks: gasLeftTicks}, y2: {min: -100, max: 400, ticks: gasRightTicks, pad: 9}, zero: 'y',
  sets: [line(gasFutures, RED, {yAxisID: 'y2'}), line(gasCpi, BLUE, {stepped: true})]});

panel({frame: [547, 298, 453, 290], plot: [575, 326, 970, 546], x: [2020, 2024.39], xLabels: carQuarters, xPos: qq, rot: 45,
  y: {min: -2, max: 10, ticks: carLeftTicks}, y2: {min: -40, max: 100, ticks: carRightTicks, pad: 12}, zero: 'y',
  sets: [line(carDatium, RED, {yAxisID: 'y2'}), line(carCpi, BLUE, {stepped: true})]});

panel({frame: [63, 598, 454, 289], plot: [93, 627, 487, 861], x: [2000, 2024.25], xLabels: airYears, xPos: yy,
  y: {min: -10, max: 30, ticks: airLeftTicks}, y2: {min: -40, max: 100, ticks: airRightTicks, pad: 11}, zero: 'y',
  sets: [line(airFare, RED, {yAxisID: 'y2', borderWidth: 1.3}), line(airCpi, BLUE, {stepped: true, borderWidth: 1.3})]});

panel({frame: [548, 597, 454, 286], plot: [574, 625, 981, 862], x: [2005, 2024.38], xLabels: petrolYears, xPos: yy,
  y: {min: -30, max: 50, ticks: petrolTicks}, zero: 'y',
  sets: [line(petrolPump, RED), line(petrolCpiM, BLUE, {stepped: true, borderDash: [3, 2]}),
         line(petrolCpiQ, BLUE, {stepped: true, borderWidth: 1.2})]});

panel({frame: [65, 896, 447, 292], plot: [94, 922, 501, 1162], x: [2011, 2024.43], xLabels: rentYears, xPos: yy,
  y: {min: -2, max: 16, ticks: rentTicks}, zero: 'y',
  sets: [line(rentSqm, RED, {borderWidth: 1.3}), line(rentCpiM, BLUE, {stepped: true, borderDash: [5, 3]}),
         line(rentCpi, BLUE, {stepped: true}), line(rentCorelogic, ORANGE, {stepped: true, borderDash: [3, 2], borderWidth: 1.2})]});

panel({frame: [547, 898, 446, 285], plot: [572, 925, 982, 1161], x: [2012, 2024.4], xLabels: foodYears, xPos: yy,
  y: {min: -15, max: 25, ticks: foodTicks}, zero: 'y',
  sets: [line(foodCpiM, BLUE, {borderDash: [4, 2]}), line(foodCpiQ, BLUE), line(foodWoolies, RED, {borderWidth: 1.3})]});

panel({frame: [65, 1200, 448, 288], plot: [95, 1229, 503, 1462], x: [2016.97, 2024.24], xLabels: seekYears, xPos: yy,
  y: {min: -0.5, max: 5.5, ticks: seekTicks, dec: 1}, zero: 'y',
  sets: [line(seekSalaries, RED), line(seekWage, BLUE, {stepped: true})]});

panel({frame: [542, 1196, 451, 292], plot: [571, 1224, 986, 1466], x: [2004.95, 2024.27], xLabels: ebaYears, xPos: yy,
  y: {min: 2, max: 5, ticks: ebaTicks, dec: 1},
  sets: [line(ebaLodged, BLUE_P), line(ebaApproved, RED, {stepped: true})]});

// ---------- titles, keys, notes ----------
text(295, 14, 'Australia Pipeline Inflation Indicator', 'ttl');
text(773, 13, 'Electricity Price Growth (y/y%)', 'ttl');
text(295, 311, 'Gas Price Increases (%y/y)', 'ttl');
text(773, 311, 'Used Car Prices Growth (%y/y)', 'ttl');
text(292, 610, 'Airfares Growth (%y/y)', 'ttl');
text(775, 608, 'Petrol Price Growth (%y/y)', 'ttl');
text(285, 908, 'Rent Price Growth (%y/y)', 'ttl');
text(775, 911, 'Food Price Growth (%y/y)', 'ttl');
text(288, 1215, 'Seek Advertised Salaries vs Wage Growth (%y/y)', 'ttl');
text(765, 1207, 'EBA Annualised Wage Growth', 'ttl');

text(113, 42, '%', '', 'font-weight:bold;color:#111;');
text(307, 52, 'Australia CPI yoy (LHS)', '', 'font-weight:bold;color:' + RED + ';');
text(264, 101, 'Australian Pipeline Inflation', '', 'font-weight:bold;color:' + BLUE_P + ';');
text(264, 114, 'Pressure, 4 mth lead (RHS)*', '', 'font-weight:bold;color:' + BLUE_P + ';');
text(125, 233, '* based on energy and agricultural commodities prices,', 'note');
text(125, 244, 'shipping rates, China PPI, Australian price surveys, Seek', 'note');
text(125, 255, 'advertised salaries. Dashed line shows Monthly CPI.', 'note');

key(623, 635, 38, BLUE, false, 'Australia Electricity CPI (LHS)');
key(623, 635, 64, RED, false, 'Wholesale futures price, 3m rolling avg, lead 2 quarters');
text(636, 77, '(RHS)');

key(203, 213, 343, BLUE, false, 'Australia Gas & Household Fuel CPI (LHS)');
key(203, 213, 361, RED, false, 'Gas Price Futures, 1 quarter lead (RHS)');

key(592, 603, 337, BLUE, false, 'Australia Private Vehicle CPI (LHS)');
key(592, 603, 357, RED, false, 'Datium Used Car Price Index, 4 weeks avg (RHS)');

key(156, 168, 648, BLUE, false, 'Australia Domestic Travel CPI (LHS)');
key(156, 168, 672, RED, false, 'Best Discount Airfare, 3m avg (RHS)');

key(628, 642, 641, BLUE, false, 'Australia Automotive Fuel CPI');
key(628, 642, 660, BLUE, true, 'Australia Automotive Fuel Monthly CPI');
key(628, 642, 679, RED, false, 'Petrol prices at the pump, 12w avg');

key(143, 158, 937, BLUE, false, 'Australia Rent CPI');
key(143, 158, 953, BLUE, true, 'Australia Rent CPI Monthly');
key(143, 158, 969, RED, false, 'SQM Rent Index*');
key(143, 158, 985, ORANGE, true, 'Corelogic Median Rent');
text(324, 944, '*asking rent, avg of', 'note', 'font-size:9px;');
text(324, 955, 'units and houses', 'note', 'font-size:9px;');

key(642, 657, 935, BLUE, false, 'Quarterly Food CPI');
key(642, 657, 952, BLUE, true, 'Monthly Food & Nonalcoholic Beverages CPI');
key(642, 657, 969, RED, false, 'Woolies basket *');
text(801, 1135, '* Weekly basket of groceries from', 'note', 'font-size:9px;');
text(801, 1146, 'Woolworths online shop, accounting for', 'note', 'font-size:9px;');
text(801, 1156, 'substitution effect.', 'note', 'font-size:9px;');

key(140, 152, 1251, BLUE, false, 'Australia Wage Growth');
key(140, 152, 1272, RED, false, 'Seek Advertised Salaries');

key(862, 873, 1252, BLUE_P, false, 'Newly Lodged*', 'font-weight:bold;');
key(862, 873, 1281, RED, false, 'Newly Approved', 'font-weight:bold;');
text(577, 1232, 'Annual %', '', 'font-weight:bold;color:#111;');
text(583, 1246, 'change', '', 'font-weight:bold;color:#111;');
text(579, 1447, '*4-week average', 'note', 'font-size:9px;');
</script>
</body>
</html>
